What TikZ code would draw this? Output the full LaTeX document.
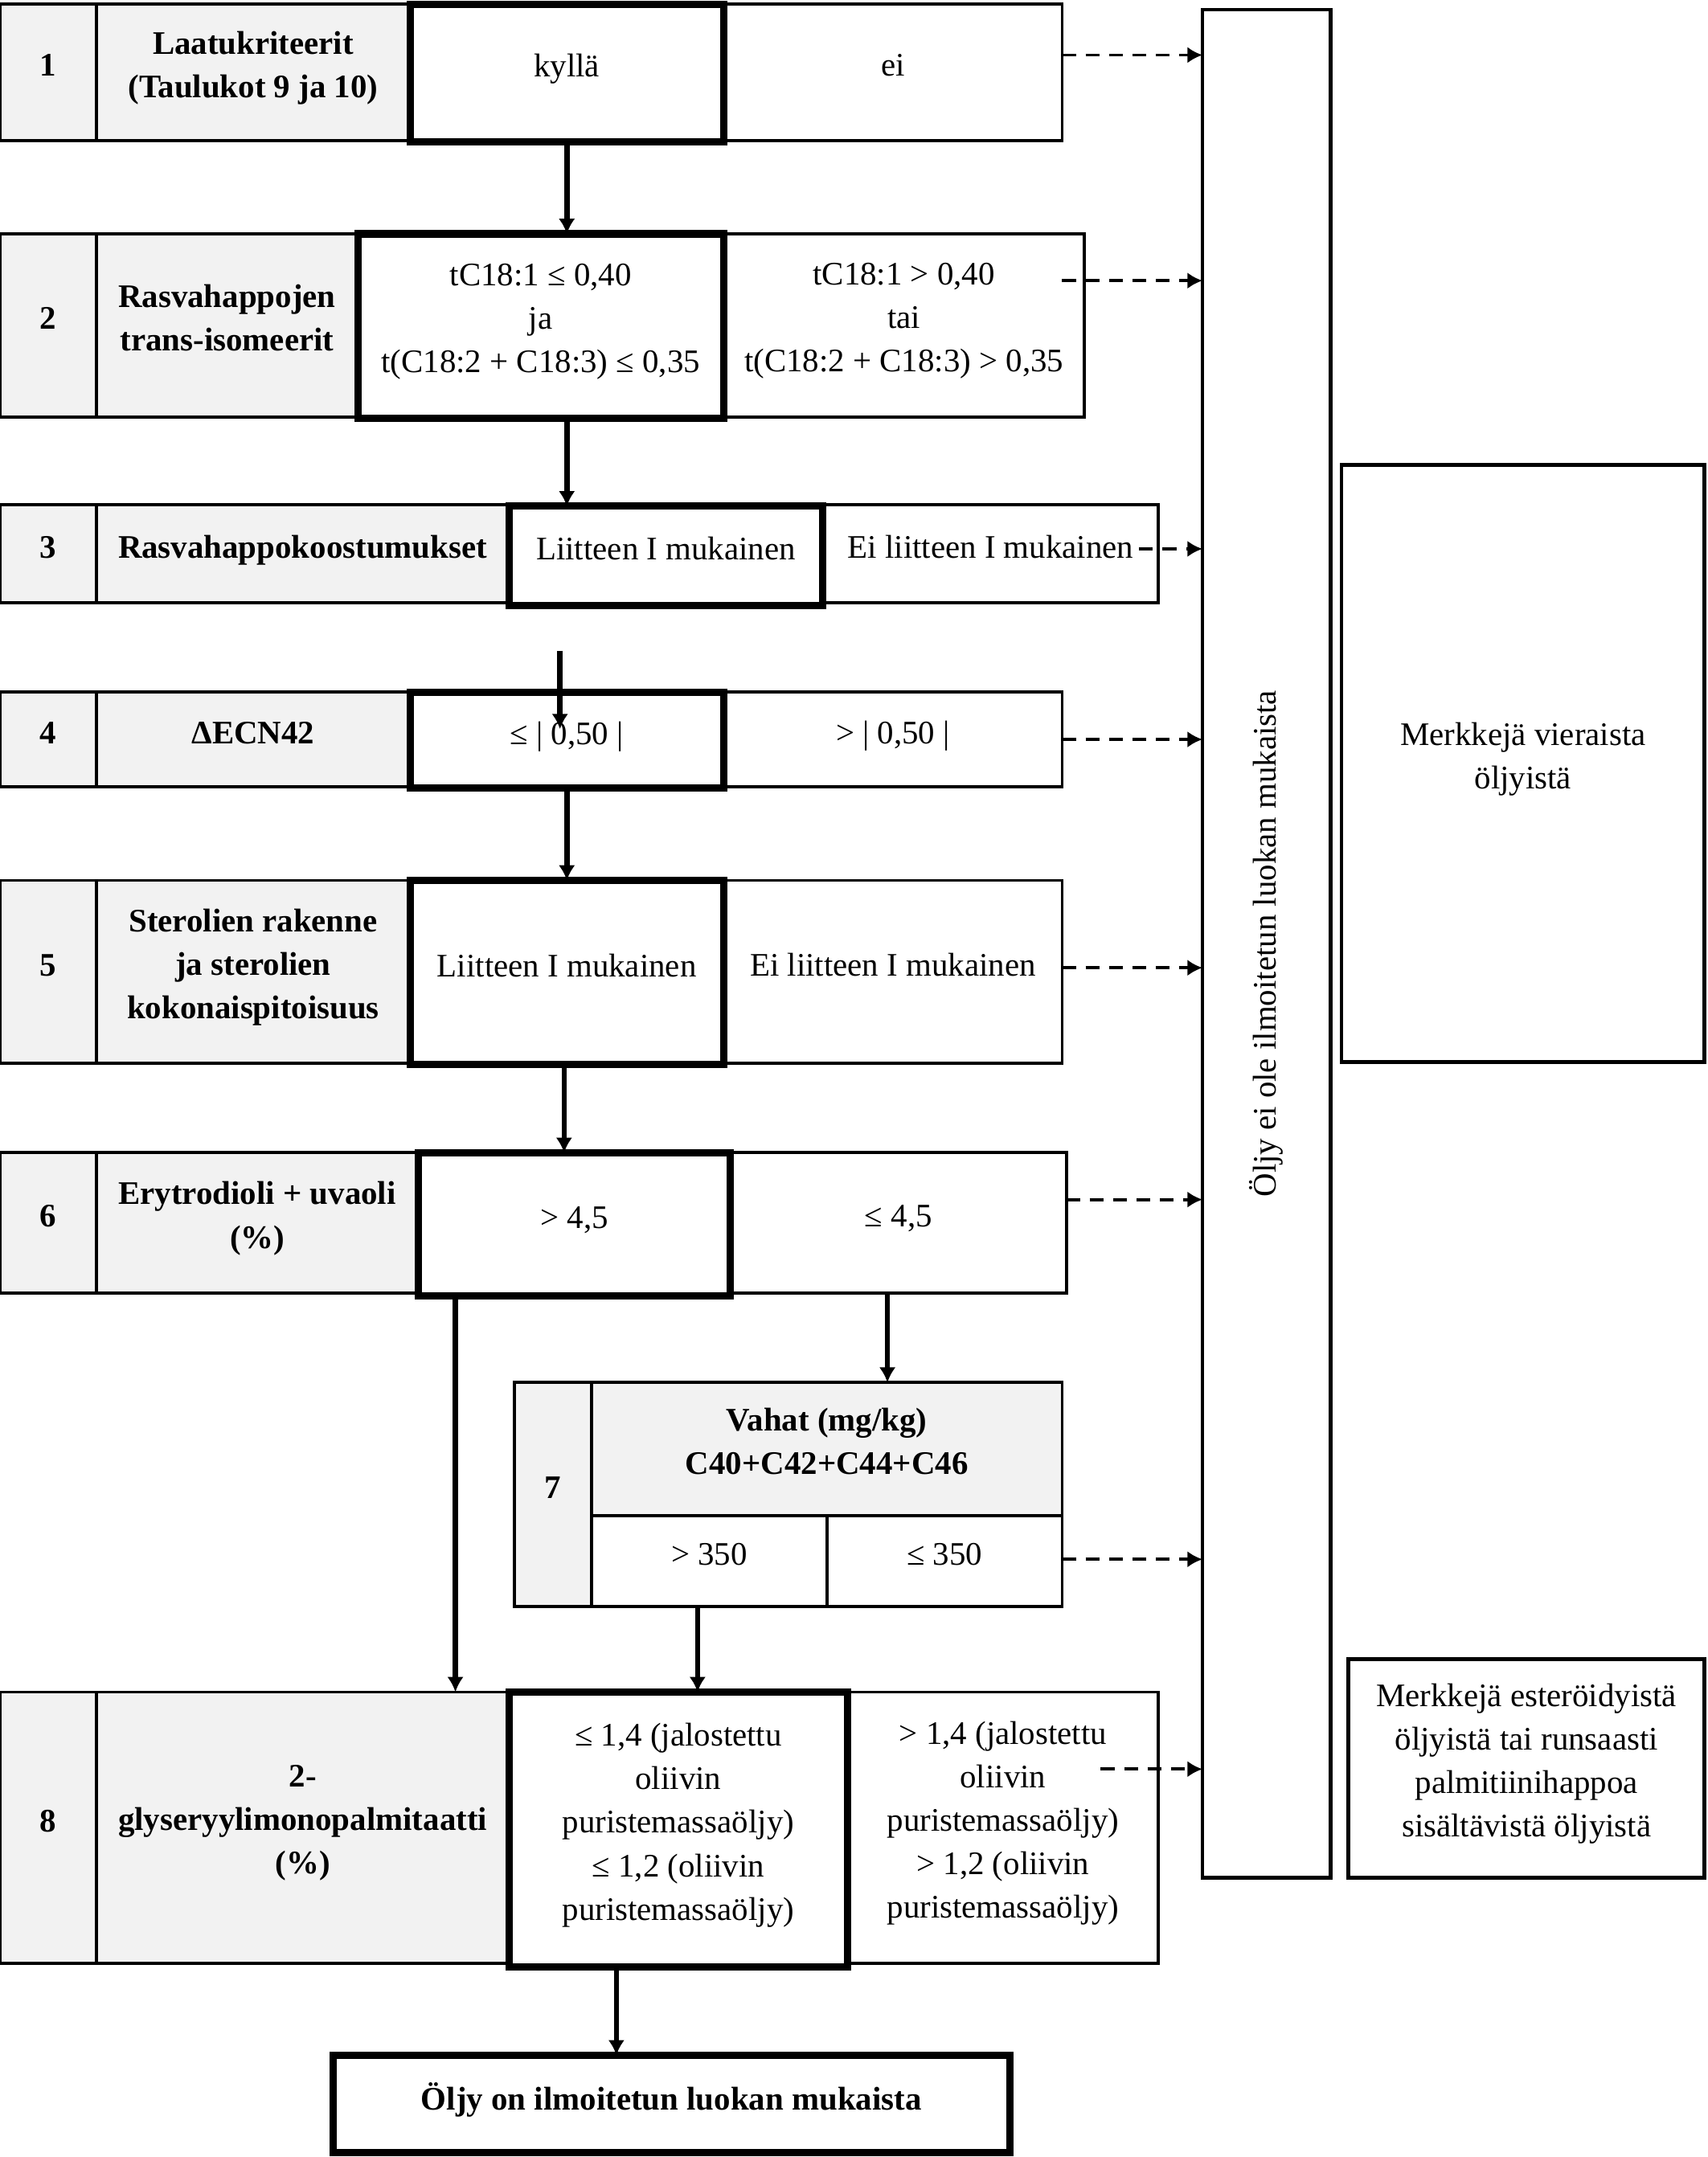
\documentclass[tikz,border=0pt]{standalone}
\usepackage{fontspec}
\setmainfont{Liberation Serif}
\usepackage{graphicx}
\usetikzlibrary{arrows.meta,calc}
\definecolor{cellgray}{HTML}{F2F2F2}
\tikzset{
  base0/.style={draw=black, line width=1.3pt, inner sep=1pt, outer sep=0pt, align=center,
    font=\fontsize{13.6}{18}\selectfont, anchor=center},
  base/.style={base0, execute at begin node={\rule{0pt}{10pt}}, execute at end node={\rule[-6.6pt]{0pt}{6.6pt}}},
  hdr/.style={base, fill=cellgray, font=\fontsize{13.6}{18}\selectfont\bfseries},
  opt/.style={base, fill=white},
  pass/.style={base, fill=white, line width=3pt},
  passb/.style={pass, font=\fontsize{13.6}{18}\selectfont\bfseries},
  side/.style={base, line width=1.6pt},
  vside/.style={base0, line width=1.6pt},
  flow/.style={line width=2.2pt, -{Latex[length=0.22cm,width=0.24cm]}},
  rej/.style={line width=1.3pt, dash pattern=on 0.2cm off 0.14cm, -{Latex[length=0.22cm,width=0.24cm]}},
}
\newcommand\mkcell[7]{\node[#1, minimum width={(#5-#3)*0.02cm}, minimum height={(#6-#4)*0.02cm}] (#2) at ({(#3+#5)/2},{(#4+#6)/2}) {#7};}
\begin{document}
\begin{tikzpicture}[x=0.02cm, y=-0.02cm]
\fill[white] (0,0) rectangle (1241,1568);
\useasboundingbox (0,0) rectangle (1241,1568);
% Row 1
\mkcell{hdr}{n1}{0}{3}{70}{102}{1}
\mkcell{hdr}{h1}{70}{3}{298}{102}{Laatukriteerit\\(Taulukot 9 ja 10)}
\mkcell{opt}{r1}{526}{3}{772}{102}{ei}
\mkcell{pass}{p1}{298}{3}{526}{103}{kyllä}
% Row 2
\mkcell{hdr}{n2}{0}{170}{70}{303}{2}
\mkcell{hdr}{h2}{70}{170}{260}{303}{Rasvahappojen\\trans-isomeerit}
\mkcell{opt}{r2}{526}{170}{788}{303}{tC18:1 > 0,40\\tai\\t(C18:2 + C18:3) > 0,35}
\mkcell{pass}{p2}{260}{170}{526}{304}{tC18:1 ≤ 0,40\\ja\\t(C18:2 + C18:3) ≤ 0,35}
% Row 3
\mkcell{hdr}{n3}{0}{367}{70}{438}{3}
\mkcell{hdr}{h3}{70}{367}{370}{438}{Rasvahappokoostumukset}
\mkcell{opt}{r3}{598}{367}{842}{438}{Ei liitteen I mukainen}
\mkcell{pass}{p3}{370}{368}{598}{440}{Liitteen I mukainen}
% Row 4
\mkcell{hdr}{n4}{0}{503}{70}{572}{4}
\mkcell{hdr}{h4}{70}{503}{298}{572}{ΔECN42}
\mkcell{opt}{r4}{526}{503}{772}{572}{> | 0,50 |}
\mkcell{pass}{p4}{298}{503}{526}{573}{≤ | 0,50 |}
% Row 5
\mkcell{hdr}{n5}{0}{640}{70}{773}{5}
\mkcell{hdr}{h5}{70}{640}{298}{773}{Sterolien rakenne\\ja sterolien\\kokonaispitoisuus}
\mkcell{opt}{r5}{526}{640}{772}{773}{Ei liitteen I mukainen}
\mkcell{pass}{p5}{298}{640}{526}{774}{Liitteen I mukainen}
% Row 6
\mkcell{hdr}{n6}{0}{838}{70}{940}{6}
\mkcell{hdr}{h6}{70}{838}{304}{940}{Erytrodioli + uvaoli\\(\%)}
\mkcell{opt}{r6}{531}{838}{775}{940}{≤ 4,5}
\mkcell{pass}{p6}{304}{838}{531}{942}{> 4,5}
% Row 7
\mkcell{hdr}{n7}{374}{1005}{430}{1168}{7}
\mkcell{hdr}{h7}{430}{1005}{772}{1102}{Vahat (mg/kg)\\C40+C42+C44+C46}
\mkcell{opt}{g7}{430}{1102}{601}{1168}{> 350}
\mkcell{opt}{l7}{601}{1102}{772}{1168}{≤ 350}
% Row 8
\mkcell{hdr}{n8}{0}{1230}{70}{1427}{8}
\mkcell{hdr}{h8}{70}{1230}{370}{1427}{2-\\glyseryylimonopalmitaatti\\(\%)}
\mkcell{opt}{r8}{616}{1230}{842}{1427}{> 1,4 (jalostettu\\oliivin\\puristemassaöljy)\\> 1,2 (oliivin\\puristemassaöljy)}
\mkcell{pass}{p8}{370}{1230}{616}{1430}{≤ 1,4 (jalostettu\\oliivin\\puristemassaöljy)\\≤ 1,2 (oliivin\\puristemassaöljy)}
% Final
\mkcell{passb}{fin}{242}{1494}{734}{1565}{Öljy on ilmoitetun luokan mukaista}
% Side boxes
\mkcell{vside}{vbox}{874}{7}{967}{1365}{\rotatebox{90}{Öljy ei ole ilmoitetun luokan mukaista}}
\mkcell{side}{m1}{975}{338}{1239}{772}{Merkkejä vieraista\\öljyistä}
\mkcell{side}{m2}{980}{1206}{1239}{1365}{Merkkejä esteröidyistä\\öljyistä tai runsaasti\\palmitiinihappoa\\sisältävistä öljyistä}
% Flow arrows
\draw[flow] (p1.south) -- (p1.south |- p2.north);
\draw[flow] (p2.south -| p1.south) -- (p1.south |- p3.north);
\coordinate (s4) at (407,473);
\coordinate (e4) at (407,530);
\draw[flow] (s4) -- (e4);
\draw[flow] (p4.south) -- (p4.south |- p5.north);
\coordinate (a5) at ([xshift=-0.04cm]p5.south);
\draw[flow] (a5) -- (a5 |- p6.north);
\coordinate (a6) at ([xshift=0.54cm]p6.south west);
\draw[flow] (a6) -- (a6 |- h8.north);
\coordinate (a67) at ([xshift=-0.16cm]r6.south);
\draw[flow] (a67) -- (a67 |- h7.north);
\coordinate (a78) at ([xshift=-0.17cm]g7.south);
\draw[flow] (a78) -- (a78 |- p8.north);
\coordinate (a8) at ([xshift=-0.9cm]p8.south);
\draw[flow] (a8) -- (a8 |- fin.north);
% Rejection arrows
\coordinate (d1) at ([yshift=0.25cm]r1.east);
\draw[rej] (d1) -- (d1 -| vbox.west);
\coordinate (d2) at ([xshift=-0.32cm,yshift=0.65cm]r2.east);
\draw[rej] (d2) -- (d2 -| vbox.west);
\coordinate (d3) at ([xshift=-0.28cm,yshift=0.07cm]r3.east);
\draw[rej] (d3) -- (d3 -| vbox.west);
\draw[rej] (r4.east) -- (r4.east -| vbox.west);
\coordinate (d5) at ([yshift=0.06cm]r5.east);
\draw[rej] (d5) -- (d5 -| vbox.west);
\coordinate (d6) at ([yshift=0.34cm]r6.east);
\draw[rej] (d6) -- (d6 -| vbox.west);
\coordinate (d7) at ([yshift=0.03cm]l7.east);
\draw[rej] (d7) -- (d7 -| vbox.west);
\coordinate (d8) at ([xshift=-0.84cm,yshift=0.85cm]r8.east);
\draw[rej] (d8) -- (d8 -| vbox.west);
\end{tikzpicture}
\end{document}
